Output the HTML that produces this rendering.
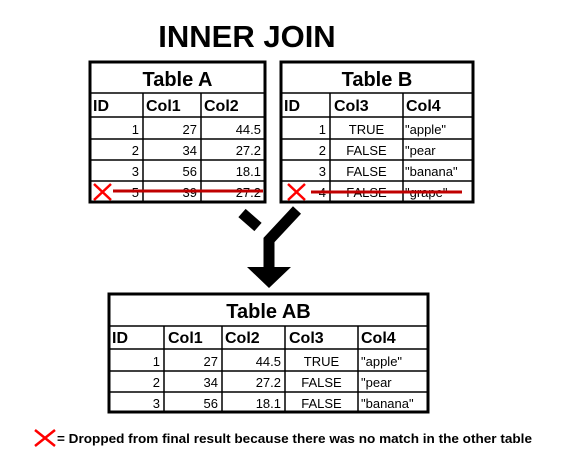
<!DOCTYPE html>
<html><head><style>
html,body{margin:0;padding:0;background:#fff;width:567px;height:471px;overflow:hidden}
svg text{font-family:"Liberation Sans",Arial,sans-serif}
</style></head><body>
<svg width="567" height="471" xmlns="http://www.w3.org/2000/svg">
<text x="247" y="47" font-size="31" font-weight="bold" text-anchor="middle">INNER JOIN</text>

<!-- Table A -->
<g stroke="#000" fill="none">
<rect x="90" y="62" width="175" height="140" stroke-width="3"/>
<path d="M90 93H265M90 117H265M90 139H265M90 160H265M90 181H265" stroke-width="1.5"/>
<path d="M143 93V202M201 93V202" stroke-width="1.5"/>
</g>
<text x="177.5" y="86" font-size="20" font-weight="bold" text-anchor="middle">Table A</text>
<g font-size="16" font-weight="bold"><text x="93" y="111">ID</text><text x="146" y="111">Col1</text><text x="204" y="111">Col2</text></g>
<g font-size="13" text-anchor="end">
<text x="139" y="134">1</text><text x="197" y="134">27</text><text x="261" y="134">44.5</text>
<text x="139" y="155">2</text><text x="197" y="155">34</text><text x="261" y="155">27.2</text>
<text x="139" y="176">3</text><text x="197" y="176">56</text><text x="261" y="176">18.1</text>
<text x="139" y="197">5</text><text x="197" y="197">39</text><text x="261" y="197">27.2</text>
</g>
<line x1="113" y1="191" x2="263" y2="191" stroke="#c00000" stroke-width="3"/>
<path d="M94 184L111 200M111 184L94 200" stroke="#f00" stroke-width="2.5"/>

<!-- Table B -->
<g stroke="#000" fill="none">
<rect x="281" y="62" width="192" height="140" stroke-width="3"/>
<path d="M281 93H473M281 117H473M281 139H473M281 160H473M281 181H473" stroke-width="1.5"/>
<path d="M330 93V202M403 93V202" stroke-width="1.5"/>
</g>
<text x="377" y="86" font-size="20" font-weight="bold" text-anchor="middle">Table B</text>
<g font-size="16" font-weight="bold"><text x="284" y="111">ID</text><text x="334" y="111">Col3</text><text x="406" y="111">Col4</text></g>
<g font-size="13">
<g text-anchor="end"><text x="326" y="134">1</text><text x="326" y="155">2</text><text x="326" y="176">3</text><text x="326" y="197">4</text></g>
<g text-anchor="middle"><text x="366.5" y="134">TRUE</text><text x="366.5" y="155">FALSE</text><text x="366.5" y="176">FALSE</text><text x="366.5" y="197">FALSE</text></g>
<text x="405" y="134">"apple"</text><text x="405" y="155">"pear</text><text x="405" y="176">"banana"</text><text x="405" y="197">"grape"</text>
</g>
<line x1="311" y1="192" x2="462" y2="192" stroke="#c00000" stroke-width="3"/>
<path d="M288 184L305 200M305 184L288 200" stroke="#f00" stroke-width="2.5"/>

<!-- Arrow -->
<path d="M242 213L258 227" stroke="#000" stroke-width="11" fill="none"/>
<path d="M297 210L269 240V268" stroke="#000" stroke-width="11" fill="none"/>
<polygon points="247,267 291,267 269,288" fill="#000"/>

<!-- Table AB -->
<g stroke="#000" fill="none">
<rect x="109" y="294" width="319" height="118" stroke-width="3"/>
<path d="M109 326H428M109 349H428M109 371H428M109 392H428" stroke-width="1.5"/>
<path d="M164 326V412M222 326V412M285 326V412M358 326V412" stroke-width="1.5"/>
</g>
<text x="268.5" y="318" font-size="20" font-weight="bold" text-anchor="middle">Table AB</text>
<g font-size="16" font-weight="bold"><text x="112" y="343">ID</text><text x="168" y="343">Col1</text><text x="225" y="343">Col2</text><text x="289" y="343">Col3</text><text x="361" y="343">Col4</text></g>
<g font-size="13">
<g text-anchor="end">
<text x="160" y="366">1</text><text x="218" y="366">27</text><text x="281" y="366">44.5</text>
<text x="160" y="387">2</text><text x="218" y="387">34</text><text x="281" y="387">27.2</text>
<text x="160" y="408">3</text><text x="218" y="408">56</text><text x="281" y="408">18.1</text>
</g>
<g text-anchor="middle"><text x="321.5" y="366">TRUE</text><text x="321.5" y="387">FALSE</text><text x="321.5" y="408">FALSE</text></g>
<text x="361" y="366">"apple"</text><text x="361" y="387">"pear</text><text x="361" y="408">"banana"</text>
</g>

<!-- Legend -->
<path d="M35 430L55 446M55 430L35 446" stroke="#f00" stroke-width="2.5"/>
<text x="57" y="443" font-size="12.5" font-weight="bold" textLength="475" lengthAdjust="spacingAndGlyphs">= Dropped from final result because there was no match in the other table</text>
</svg>
</body></html>
